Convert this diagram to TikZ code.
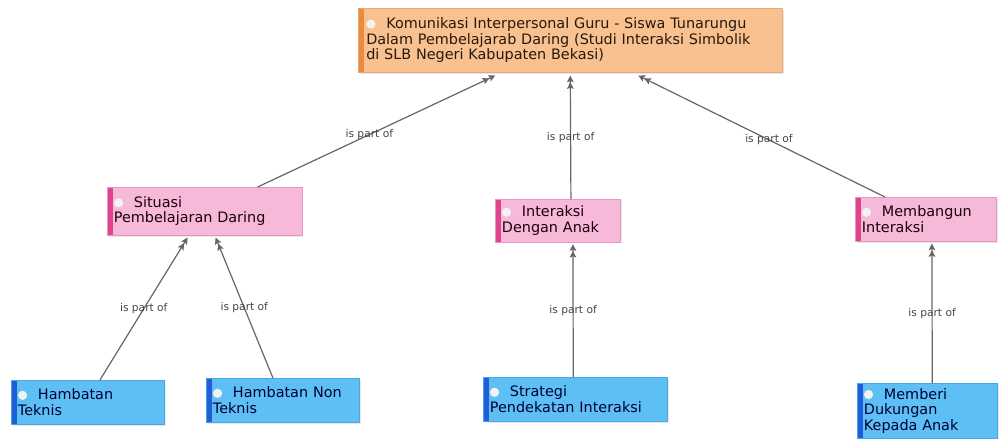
\documentclass[tikz,border=0pt]{standalone}
\usepackage{fontspec}
\setmainfont{DejaVu Sans}
\usetikzlibrary{arrows.meta,calc,shadows}
\definecolor{topfill}{HTML}{F9C190}
\definecolor{topstripe}{HTML}{EA8A3C}
\definecolor{topborder}{HTML}{E8A878}
\definecolor{pinkfill}{HTML}{F7B9DA}
\definecolor{pinkstripe}{HTML}{E0448F}
\definecolor{pinkborder}{HTML}{E596C4}
\definecolor{bluefill}{HTML}{5EBFF5}
\definecolor{bluestripe}{HTML}{1F5ED6}
\definecolor{blueborder}{HTML}{4AA6E6}
\definecolor{edgecol}{HTML}{666666}
\definecolor{labcol}{HTML}{454545}
\newcommand{\icondot}{\tikz[baseline=0pt]\fill[white!90!gray] (0,0.32em) circle (0.32em);\hspace{0.75em}}
\tikzset{
  box/.style={rectangle, anchor=north west, inner xsep=4pt, inner ysep=2pt,
    font=\fontsize{10.8}{11.6}\selectfont, align=left,
    drop shadow={opacity=0.18, shadow xshift=1pt, shadow yshift=-1pt}},
  topbox/.style={box, fill=topfill, draw=topborder, text=black!80!brown,
    path picture={\fill[topstripe] (path picture bounding box.north west) rectangle ([xshift=4pt]path picture bounding box.south west);}},
  pinkbox/.style={box, fill=pinkfill, draw=pinkborder, text=black!85!purple,
    path picture={\fill[pinkstripe] (path picture bounding box.north west) rectangle ([xshift=4pt]path picture bounding box.south west);}},
  bluebox/.style={box, fill=bluefill, draw=blueborder, text=black!80!blue,
    path picture={\fill[bluestripe] (path picture bounding box.north west) rectangle ([xshift=4pt]path picture bounding box.south west);}},
  rel/.style={draw=edgecol, line width=0.9pt,
    -{Stealth[length=5pt,width=5pt,inset=1pt]Stealth[length=5pt,width=5pt,inset=1pt]}},
  lab/.style={font=\fontsize{8}{9}\selectfont, text=labcol, inner sep=1pt}
}
\begin{document}
\begin{tikzpicture}[x=0.75pt,y=-0.75pt]
\useasboundingbox (0,0) rectangle (1000,444);
% nodes
\node[topbox, minimum width=318pt, minimum height=48pt, text width=306pt] (top) at (358,8)
  {\icondot Komunikasi Interpersonal Guru - Siswa Tunarungu\\Dalam Pembelajarab Daring (Studi Interaksi Simbolik\\di SLB Negeri Kabupaten Bekasi)};
\node[pinkbox, minimum width=146pt, minimum height=36pt, text width=136pt] (sit) at (107,187)
  {\icondot Situasi\\Pembelajaran Daring};
\node[pinkbox, minimum width=94pt, minimum height=32pt, text width=84pt] (int) at (495,199)
  {\icondot Interaksi\\Dengan Anak};
\node[pinkbox, minimum width=106pt, minimum height=33pt, text width=96pt] (mem) at (855,197)
  {\icondot Membangun\\Interaksi};
\node[bluebox, minimum width=115pt, minimum height=33pt, text width=105pt] (tek) at (11,380)
  {\icondot Hambatan\\Teknis};
\node[bluebox, minimum width=115pt, minimum height=33pt, text width=105pt] (non) at (206,378)
  {\icondot Hambatan Non\\Teknis};
\node[bluebox, minimum width=138pt, minimum height=33pt, text width=128pt] (str) at (483,377)
  {\icondot Strategi\\Pendekatan Interaksi};
\node[bluebox, minimum width=105pt, minimum height=41pt, text width=95pt] (ber) at (857,383)
  {\icondot Memberi\\Dukungan\\Kepada Anak};
% connectors
\draw[rel] ($(sit.north)+(53,0)$) -- node[lab, pos=0.47]{is part of} ($(top.south)+(-75,3)$);
\draw[rel] ($(int.north)+(13,0)$) -- node[lab, pos=0.5]{is part of} ($(top.south)+(0,3)$);
\draw[rel] ($(mem.north)+(-41,0)$) -- node[lab, pos=0.47]{is part of} ($(top.south)+(68,3)$);
\draw[rel] ($(tek.north)+(12,0)$) -- node[lab, pos=0.5]{is part of} ($(sit.south)+(-17,2)$);
\draw[rel] ($(non.north)+(-10,0)$) -- node[lab, pos=0.5]{is part of} ($(sit.south)+(11,2)$);
\draw[rel] ($(str.north)+(-2,0)$) -- node[lab, pos=0.5]{is part of} ($(int.south)+(15,2)$);
\draw[rel] ($(ber.north)+(5,0)$) -- node[lab, pos=0.5]{is part of} ($(mem.south)+(6,2)$);
\end{tikzpicture}
\end{document}
